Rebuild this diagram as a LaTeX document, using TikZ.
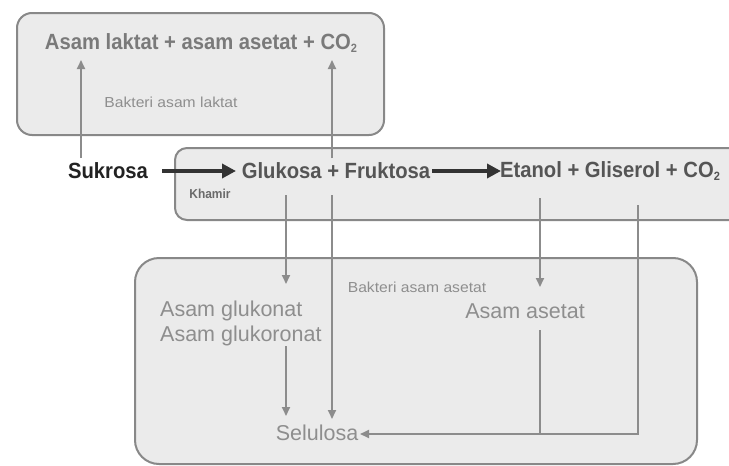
\documentclass[tikz,border=0pt]{standalone}
\usepackage{fontspec}
\setmainfont{Liberation Sans}
\newfontfamily\condfont[FakeStretch=0.92]{Liberation Sans}
\newfontfamily\widefont[FakeStretch=1.08]{Liberation Sans}
\usetikzlibrary{arrows.meta,calc}
\definecolor{boxfill}{HTML}{EBEBEB}
\definecolor{boxline}{HTML}{888888}
\definecolor{arrgray}{HTML}{8C8C8C}
\definecolor{txtgray}{HTML}{7A7A7A}
\definecolor{txtdark}{HTML}{555555}
\definecolor{txtblack}{HTML}{222222}
\definecolor{txtlight}{HTML}{8E8E8E}
\definecolor{txtmid}{HTML}{6A6A6A}
\definecolor{arrdark}{HTML}{333333}
\newcommand\lowtwo{\raisebox{-0.3ex}{\fontsize{12}{12}\selectfont 2}}
\tikzset{
  panel/.style={draw=boxline, fill=boxfill, line width=2pt},
  bigtxt/.style={inner sep=0pt, font=\condfont\fontsize{22}{24}\selectfont\bfseries},
  medtxt/.style={inner sep=0pt, font=\fontsize{21.5}{24}\selectfont, text=txtlight},
  smalltxt/.style={inner sep=0pt, font=\widefont\fontsize{14.5}{16}\selectfont, text=txtlight},
  labtxt/.style={inner sep=0pt, font=\condfont\fontsize{13}{14}\selectfont\bfseries, text=txtmid},
  garrow/.style={draw=arrgray, line width=2pt, -{Triangle[length=9pt,width=8pt]}},
  gline/.style={draw=arrgray, line width=2pt},
  darrow/.style={draw=arrdark, line width=4.5pt, -{Triangle[length=14pt,width=14pt]}}
}
\begin{document}
\begin{tikzpicture}[x=1pt,y=-1pt]
\useasboundingbox (0,0) rectangle (729,466);
\fill[white] (0,0) rectangle (729,466);
\begin{scope}
\clip (0,0) rectangle (729,466);
\draw[panel, rounded corners=15pt] (17,13) rectangle (384,135);
\draw[panel, rounded corners=12pt] (175,148) rectangle (745,220);
\draw[panel, rounded corners=24pt] (135,258) rectangle (697,464);
\end{scope}

\node[bigtxt, text=txtgray] (top) at (201,43) {Asam laktat + asam asetat + CO\lowtwo};
\node[smalltxt] (bal) at (171,102) {Bakteri asam laktat};
\node[bigtxt, text=txtblack] (suk) at (108,171) {Sukrosa};
\node[bigtxt, text=txtdark] (gf) at (336,171) {Glukosa + Fruktosa};
\node[bigtxt, text=txtdark] (egc) at (610,171) {Etanol + Gliserol + CO\lowtwo};
\node[labtxt] (kh) at (210,194) {Khamir};
\node[smalltxt] (baa) at (417,287) {Bakteri asam asetat};
\node[medtxt, anchor=west] (ag) at (160,311) {Asam glukonat};
\node[medtxt, anchor=west] (agr) at (160,336) {Asam glukoronat};
\node[medtxt] (aa) at (525,311) {Asam asetat};
\node[medtxt] (sel) at (317,433) {Selulosa};

\coordinate (sukup) at (81,158);
\coordinate (topl) at (81,60);
\coordinate (gfup) at (332,158);
\coordinate (topr) at (332,60);
\coordinate (glud) at (286,195);
\coordinate (agtop) at (286,284);
\coordinate (frud) at (332,195);
\coordinate (seltop) at (332,419);
\coordinate (agrd) at (286,346);
\coordinate (seltop2) at (286,416);
\coordinate (etd) at (540,198);
\coordinate (aatop) at (540,287);
\coordinate (aad) at (540,330);
\coordinate (join) at (540,434);
\coordinate (glid) at (638,205);
\coordinate (corner) at (638,434);
\coordinate (selr) at (360,434);
\coordinate (a1s) at (162,171);
\coordinate (a1e) at (236,171);
\coordinate (a2s) at (432,171);
\coordinate (a2e) at (501,171);

\draw[garrow] (sukup) -- (topl);
\draw[garrow] (gfup) -- (topr);
\draw[darrow] (a1s) -- (a1e);
\draw[darrow] (a2s) -- (a2e);
\draw[garrow] (glud) -- (agtop);
\draw[garrow] (frud) -- (seltop);
\draw[garrow] (agrd) -- (seltop2);
\draw[garrow] (etd) -- (aatop);
\draw[gline] (aad) -- (join);
\draw[garrow] (glid) -- (corner) -- (selr);
\end{tikzpicture}
\end{document}
